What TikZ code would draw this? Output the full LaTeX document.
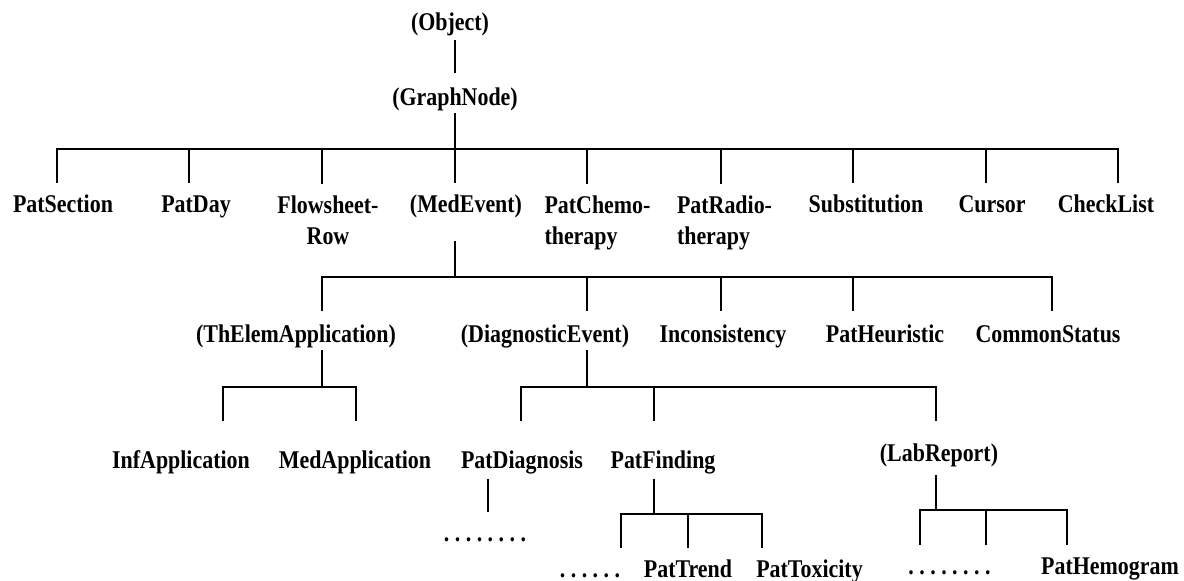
\documentclass[tikz,border=0pt]{standalone}
\usepackage{fontspec}
\usepackage{tikz}
\newfontfamily\clsfont{Liberation Serif}[FakeStretch=0.86]
\frenchspacing

\begin{document}
\begin{tikzpicture}[x=1pt,y=1pt,line width=2pt,
	cls/.style={font=\clsfont\bfseries\fontsize{25.5}{31}\selectfont,inner sep=0pt,
		text height=17pt,text depth=6pt,anchor=base},
	cls2/.style={font=\clsfont\bfseries\fontsize{25.5}{31}\selectfont,inner sep=0pt}]

	\useasboundingbox (0,0) rectangle (1184,-581);

	\node[cls] (obj) at (450,-30) {(Object)};
	\node[cls] (gn) at (455,-105) {(GraphNode)};

	\node[cls] (sec) at (63,-212) {PatSection};
	\node[cls] (day) at (196,-212) {PatDay};
	\node[cls2,align=center,anchor=north] (flow) at (328,-195) {Flowsheet-\\Row};
	\node[cls] (med) at (466,-212) {(MedEvent)};
	\node[cls2,align=left,anchor=north west] (chemo) at (543.5,-195) {PatChemo-\\therapy};
	\node[cls2,align=left,anchor=north west] (radio) at (676,-195) {PatRadio-\\therapy};
	\node[cls] (subst) at (866,-212) {Substitution};
	\node[cls] (cursor) at (992,-212) {Cursor};
	\node[cls] (check) at (1106,-212) {CheckList};

	\node[cls] (thelem) at (296,-342) {(ThElemApplication)};
	\node[cls] (diag) at (545,-342) {(DiagnosticEvent)};
	\node[cls] (incons) at (723,-342) {Inconsistency};
	\node[cls] (heur) at (885,-342) {PatHeuristic};
	\node[cls] (common) at (1048,-342) {CommonStatus};

	\node[cls] (infapp) at (181,-468) {InfApplication};
	\node[cls] (medapp) at (355,-468) {MedApplication};
	\node[cls] (pdiag) at (522,-468) {PatDiagnosis};
	\node[cls] (pfind) at (663,-468) {PatFinding};
	\node[cls] (lab) at (939,-461) {(LabReport)};

	\node[cls] (dots1) at (485,-541) {. . . . . . . .};

	\node[cls] (dots2) at (590,-577) {. . . . . .};
	\node[cls] (trend) at (688,-577) {PatTrend};
	\node[cls] (tox) at (809.5,-577) {PatToxicity};
	\node[cls] (dots3) at (949.5,-574) {. . . . . . . .};
	\node[cls] (hemo) at (1110,-574) {PatHemogram};

	% Object -> GraphNode
	\draw ([xshift=5,yshift=-3]obj.south) -- ([yshift=14]gn.north);

	% GraphNode -> its subclasses
	\coordinate (j1) at ([yshift=-37]gn.south);
	\draw ([yshift=-1]gn.south) -- (j1);
	\draw (j1) -| ([xshift=-6,yshift=11]sec.north);
	\draw (j1) -| ([xshift=-7,yshift=11]day.north);
	\draw (j1) -| ([xshift=-6,yshift=11]flow.north);
	\draw (j1) -| ([xshift=-11,yshift=11]med.north);
	\draw (j1) -| ([xshift=43.5,yshift=11]chemo.north west);
	\draw (j1) -| ([xshift=45,yshift=11]radio.north west);
	\draw (j1) -| ([xshift=-13,yshift=11]subst.north);
	\draw (j1) -| ([xshift=-6,yshift=11]cursor.north);
	\draw (j1) -| ([xshift=12,yshift=11]check.north);

	% MedEvent
	\coordinate (j2) at ([xshift=-11,yshift=-58]med.south);
	\draw ([xshift=-11,yshift=-22]med.south) -- (j2);
	\draw (j2) -| ([xshift=26,yshift=13]thelem.north);
	\draw (j2) -| ([xshift=42,yshift=13]diag.north);
	\draw (j2) -| ([xshift=-2,yshift=13]incons.north);
	\draw (j2) -| ([xshift=-32,yshift=13]heur.north);
	\draw (j2) -| ([xshift=4,yshift=13]common.north);

	% ThElemApplication
	\coordinate (j3) at ([xshift=26,yshift=-38]thelem.south);
	\draw ([xshift=26,yshift=-1]thelem.south) -- (j3);
	\draw (j3) -| ([xshift=42,yshift=29]infapp.north);
	\draw (j3) -| ([xshift=1,yshift=29]medapp.north);

	% DiagnosticEvent
	\coordinate (j4) at ([xshift=42,yshift=-38]diag.south);
	\draw ([xshift=42,yshift=-1]diag.south) -- (j4);
	\draw (j4) -| ([xshift=-1,yshift=29]pdiag.north);
	\draw (j4) -| ([xshift=-9,yshift=29]pfind.north);
	\draw (j4) -| ([xshift=-3,yshift=22]lab.north);

	% PatDiagnosis
	\draw ([xshift=-34,yshift=-4]pdiag.south) -- ([xshift=3,yshift=11]dots1.north);

	% PatFinding
	\coordinate (j5) at ([xshift=-9,yshift=-39]pfind.south);
	\draw ([xshift=-9,yshift=-4]pfind.south) -- (j5);
	\draw (j5) -| ([xshift=31,yshift=11]dots2.north);
	\draw (j5) -| ([yshift=11]trend.north);
	\draw (j5) -| ([xshift=-47.5,yshift=11]tox.north);

	% LabReport
	\coordinate (j6) at ([xshift=-3,yshift=-42]lab.south);
	\draw ([xshift=-3,yshift=-7]lab.south) -- (j6);
	\draw (j6) -| ([xshift=-29.5,yshift=11]dots3.north);
	\draw (j6) -| ([xshift=36.5,yshift=11]dots3.north);
	\draw (j6) -| ([xshift=-43,yshift=11]hemo.north);

\end{tikzpicture}
\end{document}
